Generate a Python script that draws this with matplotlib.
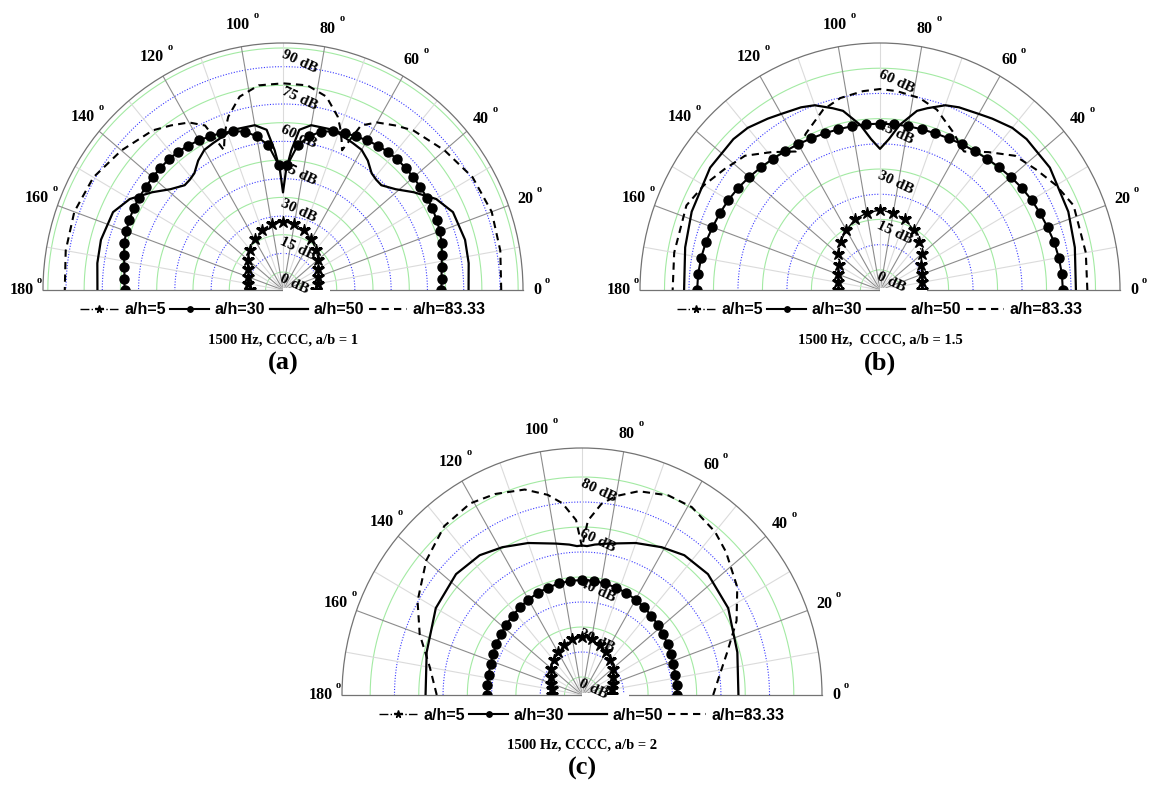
import numpy as np
import matplotlib.pyplot as plt

plt.rcParams['font.family'] = ['Liberation Serif', 'DejaVu Serif']

W, H = 1153, 792

# point angles in degrees (0..90); curves given only up to 90 are mirrored about 90 deg
ang_star = [0, 10, 20, 30, 40, 50, 60, 70, 80, 90]

# ---- (a) a/b = 1
a_star = [6.5, 7.3, 8.3, 9.7, 11.8, 14.0, 16.3, 18.4, 19.8, 20.3]
a_dot_ang = [0, 4, 8, 12, 16, 20, 24, 28, 32, 36, 40, 44, 48, 52, 56, 60, 64, 68, 72, 76, 80, 84, 88]
a_dot = [58.3, 58.5, 59.0, 60.0, 61.0, 61.8, 62.3, 62.7, 62.9, 63.0, 63.2, 63.3,
         63.4, 63.2, 62.8, 62.2, 61.5, 60.8, 59.8, 58.4, 55.5, 51.3, 43.0]
a_solid_ang = [0, 8, 15, 24, 30, 36, 41, 46, 49, 52, 56, 60, 64, 72, 80, 84, 86.5, 88.5, 90]
a_solid = [69.5, 70.3, 70.7, 69.7, 65.9, 59.6, 54.5, 51.3, 51.5, 52.3, 55.5, 57.8, 58.5,
           60.4, 60.0, 57.5, 49.0, 41.0, 32.0]
a_dash_ang = [0, 10, 20, 30, 40, 50, 55, 60, 64, 66.5, 68, 70, 72, 77, 83, 90]
a_dash = [83.0, 84.0, 84.6, 83.3, 80.0, 76.5, 73.5, 70.5, 66.3, 54.0, 57.5, 62.0, 66.0,
          72.5, 75.6, 75.8]

# ---- (b) a/b = 1.5
b_star = [6.8, 7.0, 7.6, 8.6, 10.6, 12.8, 14.6, 16.4, 17.3, 17.8]
b_dot_ang = [0, 5, 10, 15, 20, 25, 30, 35, 40, 45, 50, 55, 60, 65, 70, 75, 80, 85, 90]
b_dot = [50.0, 49.9, 49.6, 49.2, 48.6, 48.1, 47.6, 47.0, 46.3, 45.6, 45.0, 44.5,
         44.1, 43.8, 43.6, 43.5, 43.5, 43.5, 43.5]
b_solid_ang = [0, 12, 22, 35, 45, 50, 56, 60, 66, 70, 75, 78, 83, 86.5, 90]
b_solid = [54.0, 55.0, 56.2, 57.5, 57.5, 57.0, 55.5, 54.5, 53.5, 52.5, 50.0, 48.5, 43.5, 39.0, 36.0]
b_dash_ang = [0, 10, 23, 30, 37, 44, 51, 58, 60, 64, 72, 78, 85, 90]
b_dash = [57.5, 58.0, 58.4, 56.3, 53.7, 51.5, 46.8, 42.6, 43.3, 45.8, 50.4, 52.4, 53.4, 53.8]

# ---- (c) a/b = 2
c_star = [5.2, 5.5, 6.2, 7.4, 9.2, 11.0, 12.6, 14.2, 15.5, 16.0]
c_dot_ang = [0, 6, 12, 18, 24, 30, 36, 42, 48, 54, 60, 66, 72, 78, 84, 90]
c_dot = [32.0, 32.0, 32.1, 32.4, 32.9, 33.5, 34.1, 34.8, 35.5, 36.2, 36.9, 37.5,
         38.0, 38.4, 38.7, 38.8]
c_solid_ang = [0, 15, 30, 43, 53, 61, 70, 80, 85, 88, 90]
c_solid = [57.2, 59.0, 62.3, 63.7, 62.8, 60.4, 57.5, 54.3, 53.2, 52.4, 52.6]
# this one is not quite symmetric, so both halves are listed
c_dash_ang = [0, 8, 16, 25, 34, 44, 50, 59, 66, 74, 80, 84, 88, 90,
              92, 96, 100, 106, 114, 121, 130, 140, 151, 160, 170, 180]
c_dash = [46.8, 50.0, 55.0, 63.0, 69.9, 75.2, 78.0, 80.5, 80.2, 77.6, 73.6, 69.7, 62.6, 52.0,
          62.8, 69.9, 74.1, 78.3, 80.8, 82.2, 81.0, 76.5, 70.2, 63.9, 56.4, 52.6]

labels = ['a/h=5', 'a/h=30', 'a/h=50', 'a/h=83.33']
angle_ticks = [0, 20, 40, 60, 80, 100, 120, 140, 160, 180]


def full_curve(ang, val):
    ang = np.asarray(ang, float)
    val = np.asarray(val, float)
    if ang[-1] == 180:
        return np.deg2rad(ang), val
    if ang[-1] == 90:
        back_a, back_v = ang[-2::-1], val[-2::-1]
    else:
        back_a, back_v = ang[::-1], val[::-1]
    return np.deg2rad(np.r_[ang, 180 - back_a]), np.r_[val, back_v]


fig = plt.figure(figsize=(W / 100, H / 100), dpi=100)


def panel(cx, cy, rmin, rmax, ring_step, label_step, ring_top,
          star, dot_ang, dot, solid_ang, solid, dash_ang, dash, caption, tag, leg_y):
    rh, rv = 240, 247
    hax = 2 * rv
    ax = fig.add_axes([(cx - rh) / W, (H - cy - 0.25 * hax) / H, 2 * rh / W, hax / H],
                      projection='polar')
    ax.set_thetamin(0)
    ax.set_thetamax(180)
    ax.set_rlim(rmin, rmax)
    ax.set_aspect('auto')
    ax.set_xticks([])
    ax.set_yticks([])
    ax.grid(False)
    for s in ax.spines.values():
        s.set_color('0.45')
        s.set_linewidth(0.9)
    span = rmax - rmin

    th = np.linspace(0, np.pi, 361)
    # range rings: labelled ones green, in-between ones blue dotted
    for r in np.arange(0, ring_top + 0.01, ring_step):
        if abs(r / label_step - round(r / label_step)) < 1e-6:
            ax.plot(th, np.full_like(th, r), color='#a3eaa3', lw=0.8, zorder=1)
        else:
            ax.plot(th, np.full_like(th, r), color='#3a3aff', lw=0.8, ls=(0, (1, 1.5)), zorder=1)
    # spokes
    for a in range(10, 180, 10):
        col = '0.55' if a % 20 == 0 else '0.86'
        ax.plot([np.deg2rad(a)] * 2, [rmin, rmax], color=col, lw=0.8, zorder=1)
    # the 0 dB label box leaves a gap in the base line
    ax.plot([0, 0], [rmin, rmin + 0.196 * span], color='white', lw=3, zorder=3,
            solid_capstyle='butt', clip_on=False)

    # curves
    t, v = full_curve(ang_star, star)
    l1, = ax.plot(t, v, color='k', ls='-.', lw=1.0, marker='*', ms=9, zorder=4)
    t, v = full_curve(dot_ang, dot)
    l2, = ax.plot(t, v, color='k', ls='-', lw=1.5, marker='o', ms=6.5, zorder=4)
    t, v = full_curve(solid_ang, solid)
    l3, = ax.plot(t, v, color='k', ls='-', lw=1.6, zorder=4)
    t, v = full_curve(dash_ang, dash)
    l4, = ax.plot(t, v, color='k', ls='--', dashes=(3.5, 2.5), lw=1.5, zorder=4)

    # dB labels along the vertical axis
    for r in np.arange(0, ring_top + 0.01, label_step):
        ax.text(np.deg2rad(89.5), r, '%g dB' % r, rotation=-25, rotation_mode='anchor',
                ha='left', va='top', fontsize=11, fontweight='bold', zorder=5)

    # angle labels with raised degree mark
    for a in angle_ticks:
        s = str(a)
        rl = rmin + (1.045 + 0.015 * len(s)) * span
        ax.text(np.deg2rad(a), rl, s, ha='center', va='center', fontsize=11.5,
                fontweight='bold', clip_on=False)
        ax.annotate('o', xy=(np.deg2rad(a), rl), xytext=(len(s) * 2.9 + 2.5, 7),
                    textcoords='offset points', ha='left', va='center', fontsize=7.5,
                    fontweight='bold', annotation_clip=False)

    fig.legend([l1, l2, l3, l4], labels, loc='center', bbox_to_anchor=(cx / W, 1 - leg_y / H),
               ncol=4, frameon=False, prop={'family': 'Liberation Sans', 'weight': 'bold', 'size': 11.5},
               handlelength=2.4, handletextpad=0.35, columnspacing=0.3, markerscale=0.6,
               borderaxespad=0)
    fig.text(cx / W, 1 - (leg_y + 30) / H, caption, ha='center', va='center',
             fontsize=10.5, fontweight='bold')
    fig.text(cx / W, 1 - (leg_y + 53) / H, tag, ha='center', va='center',
             fontsize=19, fontweight='bold')
    return ax


panel(283, 290, -7.2, 92.0, 7.5, 15, 90, a_star, a_dot_ang, a_dot, a_solid_ang, a_solid,
      a_dash_ang, a_dash, '1500 Hz, CCCC, a/b = 1', '(a)', 310)
panel(880, 290, -6.0, 67.5, 7.5, 15, 60, b_star, b_dot_ang, b_dot, b_solid_ang, b_solid,
      b_dash_ang, b_dash, '1500 Hz,  CCCC, a/b = 1.5', '(b)', 310)
panel(582, 695, -7.2, 91.6, 10, 20, 80, c_star, c_dot_ang, c_dot, c_solid_ang, c_solid,
      c_dash_ang, c_dash, '1500 Hz, CCCC, a/b = 2', '(c)', 715)

fig.savefig('out.png', dpi=100, facecolor='white')
